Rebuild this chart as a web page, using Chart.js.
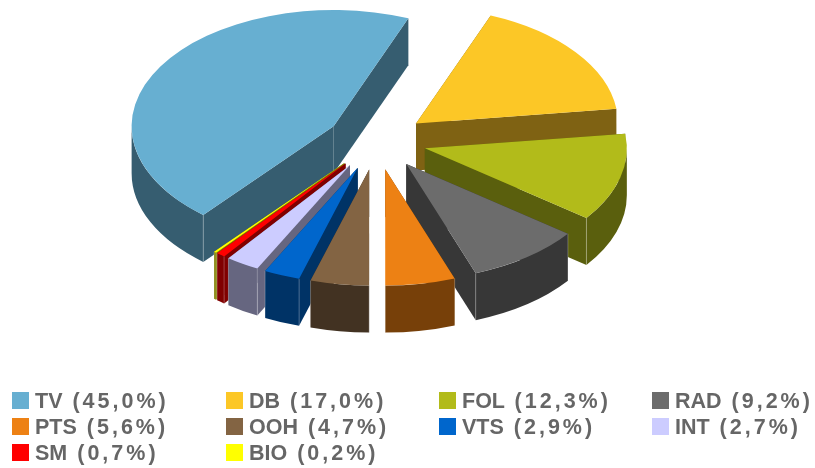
<!DOCTYPE html>
<html>
<head>
<meta charset="utf-8">
<style>
  html, body { margin: 0; padding: 0; background: #fff; }
  #wrap { position: relative; width: 815px; height: 468px; overflow: hidden; }
  canvas { position: absolute; left: 0; top: 0; }
  .item { position: absolute; height: 26px; line-height: 26px; white-space: nowrap;
          font: bold 21.5px "Liberation Sans", Arial, sans-serif; color: #666; }
  .item i { position: absolute; left: -23px; top: 3px; width: 17px; height: 17px; }
  .item span { letter-spacing: 3px; margin-left: 4px; }
</style>
</head>
<body>
<div id="wrap">
  <canvas id="myChart" width="815" height="468"></canvas>
</div>
<script src="https://cdn.jsdelivr.net/npm/chart.js@4"></script>
<script>
const labels = ['TV', 'DB', 'FOL', 'RAD', 'PTS', 'OOH', 'VTS', 'INT', 'SM', 'BIO'];
const values = [45.0, 17.0, 12.3, 9.2, 5.6, 4.7, 2.9, 2.7, 0.7, 0.2];
const topColors = ['#67afd1', '#fcc726', '#b2bb1a', '#6c6c6c', '#ed8114', '#836443', '#0066cc', '#ccccff', '#ff0000', '#ffff00'];
const wallColors = ['#365d70', '#7f6213', '#5a5f0d', '#373737', '#774009', '#423222', '#003366', '#666680', '#800000', '#808000'];

// look of the fake 3D pie
const tilt = 0.575;
const depth = 47;
const explode = 50;
const centerY = 141;

function midAngle(arc) {
    return (arc.startAngle + arc.endAngle) / 2;
}

// side walls of one slice, apex at x,y on the screen
function drawWalls(ctx, arc, x, y, color) {
    const r = arc.outerRadius;
    const edges = [arc.startAngle, arc.endAngle];
    ctx.fillStyle = color;

    edges.forEach(a => {
        const ex = x + Math.cos(a) * r;
        const ey = y + Math.sin(a) * r * tilt;
        ctx.beginPath();
        ctx.moveTo(x, y);
        ctx.lineTo(ex, ey);
        ctx.lineTo(ex, ey + depth);
        ctx.lineTo(x, y + depth);
        ctx.closePath();
        ctx.fill();
    });

    // outer wall, only the part of the rim that faces us
    for (let k = -1; k <= 1; k++) {
        const from = Math.max(arc.startAngle, 2 * Math.PI * k);
        const to = Math.min(arc.endAngle, 2 * Math.PI * k + Math.PI);
        if (to > from) {
            ctx.beginPath();
            ctx.ellipse(x, y, r, r * tilt, 0, from, to);
            ctx.ellipse(x, y + depth, r, r * tilt, 0, to, from, true);
            ctx.closePath();
            ctx.fill();
        }
    }

    // pale line on the corners facing us
    ctx.strokeStyle = 'rgba(255,255,255,0.25)';
    ctx.lineWidth = 1;
    edges.forEach(a => {
        if (Math.sin(a) > 0) {
            const ex = x + Math.cos(a) * r;
            const ey = y + Math.sin(a) * r * tilt;
            ctx.beginPath();
            ctx.moveTo(ex, ey);
            ctx.lineTo(ex, ey + depth);
            ctx.stroke();
        }
    });
}

// draws the slices back to front
const pie3d = {
    id: 'pie3d',
    beforeDatasetsDraw(chart) {
        const ctx = chart.ctx;
        const arcs = chart.getDatasetMeta(0).data;
        const order = arcs.map((a, i) => i).sort((a, b) => Math.sin(midAngle(arcs[a])) - Math.sin(midAngle(arcs[b])));

        order.forEach(i => {
            const arc = arcs[i];
            const x = arc.x + Math.cos(midAngle(arc)) * explode;
            const y = centerY + Math.sin(midAngle(arc)) * explode * tilt;

            drawWalls(ctx, arc, x, y, wallColors[i]);

            ctx.save();
            ctx.translate(x - arc.x, y);
            ctx.scale(1, tilt);
            ctx.translate(0, -arc.y);
            arc.draw(ctx);
            ctx.restore();
        });
        return false;
    }
};

new Chart('myChart', {
    type: 'pie',
    data: {
        labels: labels,
        datasets: [{ data: values, backgroundColor: topColors, borderWidth: 0 }]
    },
    options: {
        responsive: false,
        animation: false,
        rotation: -139.8,
        layout: { padding: { left: 174.5, right: 236.5, top: 0, bottom: 64 } },
        plugins: { legend: { display: false }, tooltip: { enabled: false } }
    },
    plugins: [pie3d]
});

// legend in 4 columns like the original
const wrap = document.getElementById('wrap');
const colX = [35, 249, 462, 675];
const rowY = [389, 415, 441];
labels.forEach((label, i) => {
    const el = document.createElement('div');
    el.className = 'item';
    el.style.left = colX[i % 4] + 'px';
    el.style.top = rowY[Math.floor(i / 4)] + 'px';
    el.innerHTML = `<i style="background:${topColors[i]}"></i>${label} <span>(${values[i].toFixed(1).replace('.', ',')}%)</span>`;
    wrap.appendChild(el);
});
</script>
</body>
</html>
